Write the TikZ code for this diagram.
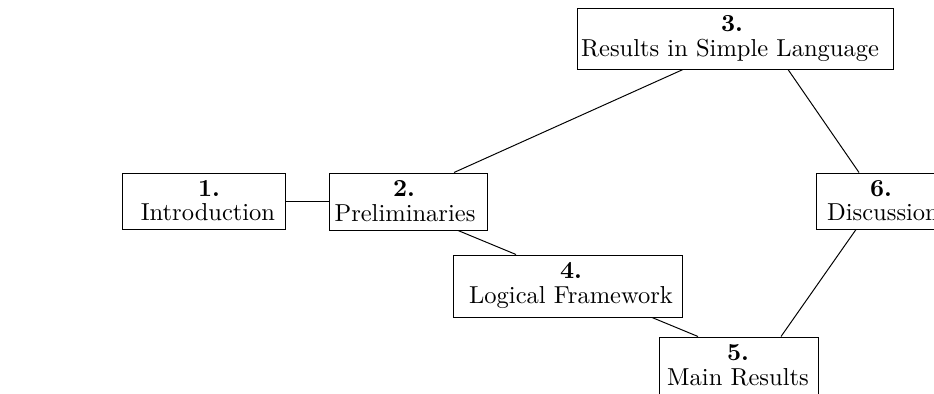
\documentclass[tikz,border=0pt]{standalone}
\usetikzlibrary{calc}
\begin{document}
\begin{tikzpicture}[x=0.408pt,y=-0.408pt,
  box/.style={draw,rectangle,inner sep=0pt},
  bwh/.style 2 args={minimum width=#1*0.408pt,minimum height=#2*0.408pt},
  num/.style={anchor=base,inner sep=0pt,font=\bfseries},
  lab/.style={anchor=base,inner sep=0pt},
  conn/.style={line width=0.4pt}]
\useasboundingbox (0,0) rectangle (934,394);
\clip (0,0) rectangle (934,394);
% boxes
\node[box,bwh={163}{56}] (n1) at (203.5,201) {};
\node[box,bwh={158}{57}] (n2) at (408,201.5) {};
\node[box,bwh={316}{61}] (n3) at (735,38.5) {};
\node[box,bwh={229}{62}] (n4) at (567.5,286) {};
\node[box,bwh={159}{61}] (n5) at (738.5,367.5) {};
\node[box,bwh={134}{56}] (n6) at (883,201) {};
% texts
\node[num] (t1a) at (209,197) {1.};
\node[lab] (t1b) at (208,221) {Introduction};
\node[num] (t2a) at (404,197) {2.};
\node[lab] (t2b) at (405,221.5) {Preliminaries};
\node[num] (t3a) at (732,32) {3.};
\node[lab] (t3b) at (730,56.5) {Results in Simple Language};
\node[num] (t4a) at (571,279) {4.};
\node[lab] (t4b) at (571,303.5) {Logical Framework};
\node[num] (t5a) at (738,361) {5.};
\node[lab] (t5b) at (738,385.5) {Main Results};
\node[num] (t6a) at (881,197) {6.};
\node[lab] (t6b) at (883,221) {Discussion};
% connectors
\draw[conn] (n1.east) -- (n1.east -| n2.west);
\draw[conn] ($(n2.north)+(46,0)$) -- ($(n3.south)+(-52,0)$);
\draw[conn] ($(n2.south)+(50,0)$) -- ($(n4.north)+(-51.5,0)$);
\draw[conn] ($(n4.south)+(84.5,0)$) -- ($(n5.north)+(-40.5,0)$);
\draw[conn] ($(n3.south)+(53,0)$) -- ($(n6.north)+(-24,0)$);
\draw[conn] ($(n6.south)+(-27,0)$) -- ($(n5.north)+(42.5,0)$);
\end{tikzpicture}
\end{document}
